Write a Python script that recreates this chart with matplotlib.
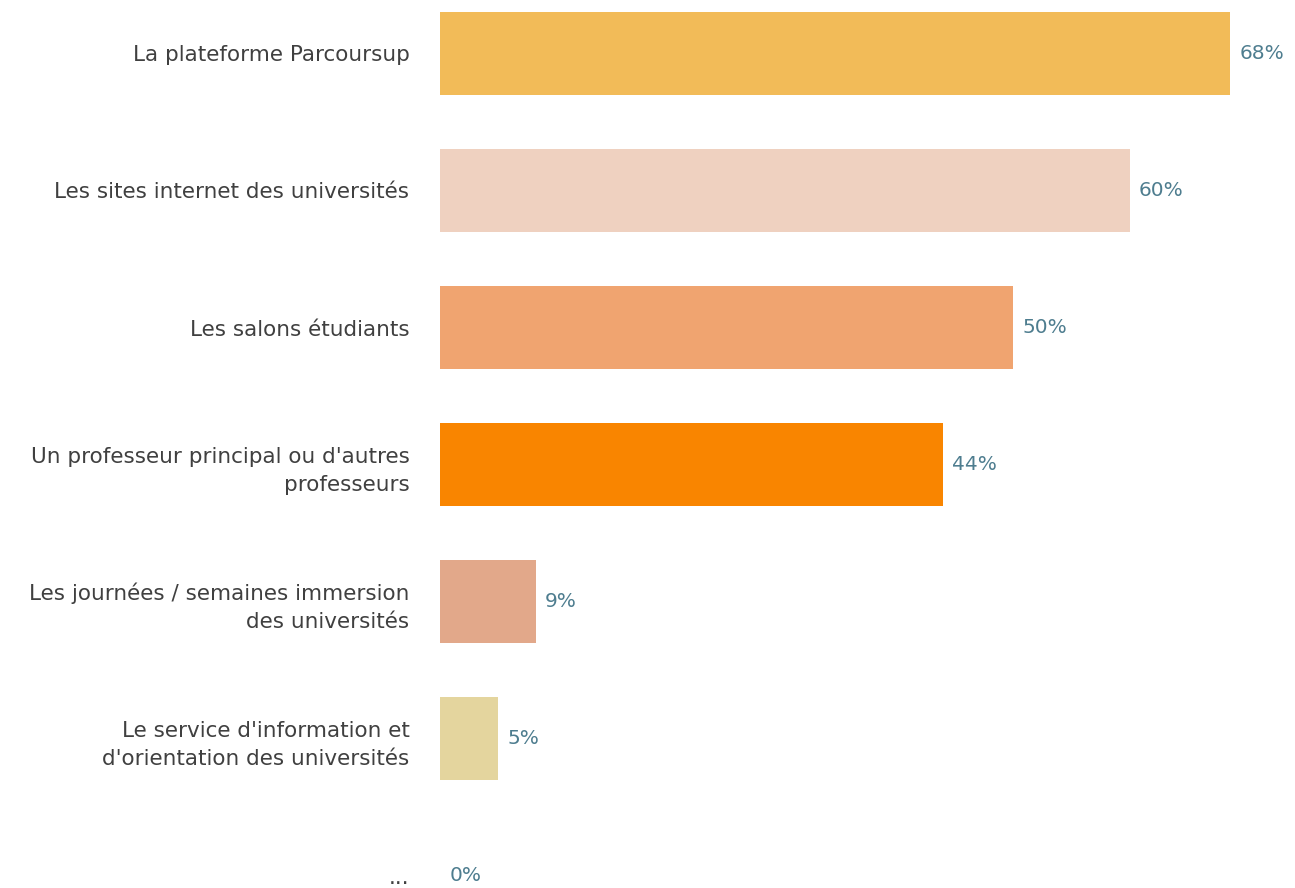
import matplotlib.pyplot as plt

# Sources d'information
categories = [
    "La plateforme Parcoursup",
    "Les sites internet des universités",
    "Les salons étudiants",
    "Un professeur principal ou d'autres\nprofesseurs",
    "Les journées / semaines immersion\ndes universités",
    "Le service d'information et\nd'orientation des universités",
    "...",
]
values = [68.4, 59.7, 49.6, 43.5, 8.3, 5.0, 0.0]
labels = ["68%", "60%", "50%", "44%", "9%", "5%", "0%"]
colors = ["#F2BB58", "#EFD1C0", "#F0A470", "#F98500", "#E2A88A", "#E4D59E", "#E4D59E"]

plt.rcParams['font.family'] = ['DejaVu Sans']

fig = plt.figure(figsize=(12.95, 8.88), dpi=100)
ax = fig.add_axes([440 / 1295, 0, 855 / 1295, 1])

ypos = list(range(len(categories)))
ax.barh(ypos, values, height=0.61, color=colors)

for y, v, lab in zip(ypos, values, labels):
    ax.text(v + 0.8, y, lab, va='center', ha='left', fontsize=14.5, color='#4E7D8F')

ax.set_xlim(0, 74)
ax.set_ylim(6.09, -0.39)
ax.set_yticks(ypos)
ax.set_yticklabels(categories, fontsize=15.5, color='#404040', linespacing=1.5)
ax.tick_params(axis='y', length=0, pad=22)
ax.set_xticks([])
for s in ax.spines.values():
    s.set_visible(False)

plt.savefig("out.png", dpi=100, facecolor='white')
